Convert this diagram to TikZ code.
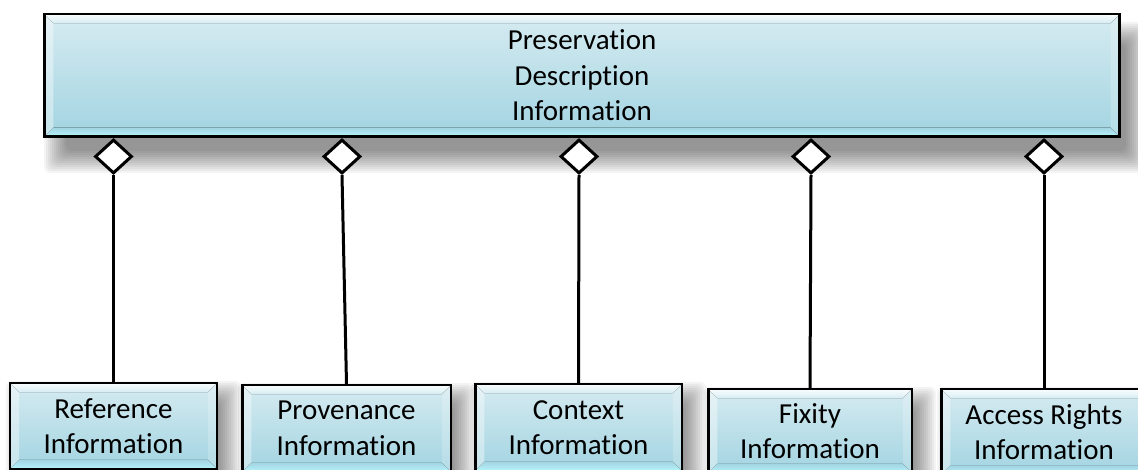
\documentclass[tikz,border=0pt]{standalone}
\usepackage{fontspec}
\setmainfont{Carlito}[Ligatures=NoCommon]
\usetikzlibrary{shapes.geometric}
\pgfdeclarelayer{background}
\pgfsetlayers{background,main}
\definecolor{boxtop}{HTML}{D6EBF1}
\definecolor{boxbot}{HTML}{A2D4E1}
\definecolor{bevtop}{HTML}{F9FEFF}
\definecolor{bevbot}{HTML}{B6F5FC}
\tikzset{
  bevelbox/.style={draw=black, line width=2.5bp, inner sep=0pt, align=center,
    font=\fontsize{29bp}{35.5bp}\selectfont,
    path picture={
      \fill[top color=boxtop, bottom color=boxbot]
        (path picture bounding box.south west) rectangle (path picture bounding box.north east);
      % top bevel
      \fill[top color=bevtop, bottom color=boxtop]
        (path picture bounding box.north west) -- (path picture bounding box.north east)
        -- ([shift={(-9bp,-9bp)}]path picture bounding box.north east)
        -- ([shift={(9bp,-9bp)}]path picture bounding box.north west) -- cycle;
      % bottom bevel
      \fill[top color=boxbot, bottom color=bevbot]
        (path picture bounding box.south west) -- (path picture bounding box.south east)
        -- ([shift={(-9bp,9bp)}]path picture bounding box.south east)
        -- ([shift={(9bp,9bp)}]path picture bounding box.south west) -- cycle;
      % left bevel
      \fill[white, opacity=0.4]
        (path picture bounding box.north west) -- (path picture bounding box.south west)
        -- ([shift={(9bp,9bp)}]path picture bounding box.south west)
        -- ([shift={(9bp,-9bp)}]path picture bounding box.north west) -- cycle;
      % right bevel
      \fill[white, opacity=0.2]
        (path picture bounding box.north east) -- (path picture bounding box.south east)
        -- ([shift={(-9bp,9bp)}]path picture bounding box.south east)
        -- ([shift={(-9bp,-9bp)}]path picture bounding box.north east) -- cycle;
    }},
  agg/.style={diamond, draw=black, fill=white, line width=3bp, inner sep=0pt,
    minimum width=37bp, minimum height=34bp, anchor=north},
  conn/.style={draw=black, line width=3bp},
  shadowlayer/.style={fill=black, opacity=0.042, rounded corners=6bp}
}
\begin{document}
\begin{tikzpicture}[x=1bp, y=-1bp]
  \useasboundingbox (0,0) rectangle (1138,470);
  \clip (0,0) rectangle (1138,470);

  % parent
  \node[bevelbox, minimum width=1075bp, minimum height=122.5bp] (pdi) at (582,75.5)
    {Preservation\\Description\\Information};

  % children
  \node[bevelbox, minimum width=206.5bp, minimum height=85.5bp] (c1) at (113.5,426)
    {Reference\\Information};
  \node[bevelbox, minimum width=208.5bp, minimum height=86.5bp] (c2) at (346.5,428.5)
    {Provenance\\Information};
  \node[bevelbox, minimum width=206.5bp, minimum height=86.5bp] (c3) at (578.5,427.5)
    {Context\\Information};
  \node[bevelbox, minimum width=203.5bp, minimum height=83.5bp] (c4) at (810,431)
    {Fixity\\Information};
  \node[bevelbox, minimum width=205.5bp, minimum height=85.5bp] (c5) at (1044,432)
    {Access Rights\\Information};

  % aggregation diamonds
  \node[agg] (d1) at (113.5,138) {};
  \node[agg] (d2) at (342,138) {};
  \node[agg] (d3) at (579,138) {};
  \node[agg] (d4) at (811,138) {};
  \node[agg] (d5) at (1044,138) {};

  % connectors
  \draw[conn] (d1.south) -- (c1.north);
  \draw[conn] (d2.south) -- (c2.north);
  \draw[conn] (d3.south) -- (c3.north);
  \draw[conn] (d4.south) -- (c4.north);
  \draw[conn] (d5.south) -- (c5.north);

  % soft drop shadows
  \begin{pgfonlayer}{background}
    \foreach \n/\dx/\dy in {pdi/14/22, c1/10/12, c2/10/12, c3/10/12, c4/10/12, c5/10/12} {
      \foreach \i in {0,...,11} {
        \pgfmathsetmacro{\e}{13-2*\i}
        \fill[shadowlayer]
          ([shift={({(\dx-\e)*1bp},{(-\dy+\e)*1bp})}]\n.north west)
          rectangle
          ([shift={({(\dx+\e)*1bp},{(-\dy-\e)*1bp})}]\n.south east);
      }
    }
  \end{pgfonlayer}
\end{tikzpicture}
\end{document}
